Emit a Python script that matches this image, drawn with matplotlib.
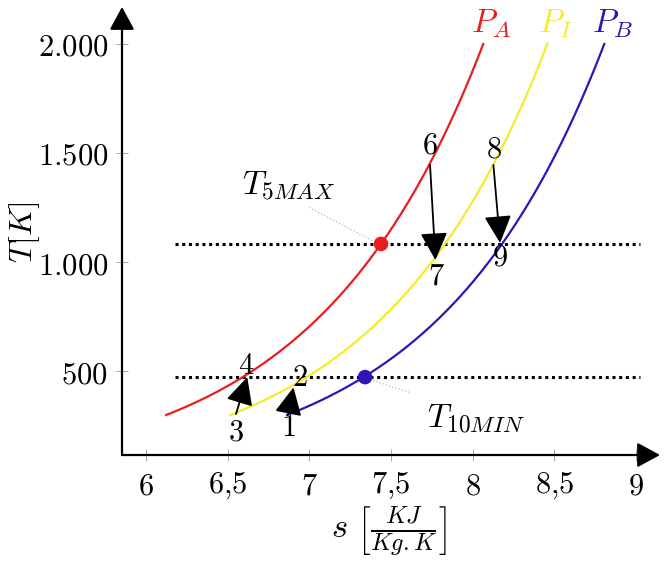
import numpy as np
import matplotlib
matplotlib.use('Agg')
import matplotlib.pyplot as plt

plt.rcParams['mathtext.fontset'] = 'cm'
plt.rcParams['font.family'] = 'DejaVu Serif'

# isobars: entropy where each curve crosses T = 1083 K, common cp
isobar_names = ['$P_A$', '$P_I$', '$P_B$']
isobar_colors = ['#e81e1e', '#f4ec2a', '#2d16b4']
isobar_s_ref = [7.439, 7.831, 8.180]
T_ref = 1083
cp = 1.02
T_start = 298
T_end = 2000

# highlighted temperatures
T5_max = 1083
T10_min = 472
dot_s = [7.439, 7.341]
dot_T = [1083, 472]
dot_colors = ['#e81e1e', '#2d16b4']

# process arrows (tail -> tip)
arrows = [((6.551, 303), (6.620, 472)),
          ((6.869, 298), (6.903, 425)),
          ((7.739, 1445), (7.772, 1009)),
          ((8.127, 1445), (8.168, 1087))]

point_labels = ['1', '2', '3', '4', '6', '7', '8', '9']
point_s = [6.869, 6.943, 6.551, 6.612, 7.739, 7.776, 8.131, 8.168]
point_T = [243, 472, 220, 523, 1537, 936, 1518, 1023]

x_ticks = [6, 6.5, 7, 7.5, 8, 8.5, 9]
x_ticklabels = ['$6$', '$6{,}5$', '$7$', '$7{,}5$', '$8$', '$8{,}5$', '$9$']
y_ticks = [500, 1000, 1500, 2000]
y_ticklabels = ['$500$', '$1.000$', '$1.500$', '$2.000$']

fs = 21

fig = plt.figure(figsize=(6.71, 5.63), dpi=100)
ax = fig.add_axes([122 / 671, 108 / 563, 538 / 671, 448 / 563])
ax.set_xlim(5.853, 9.147)
ax.set_ylim(114.7, 2169.7)

for sp in ax.spines.values():
    sp.set_visible(False)

# axes with arrow heads
for end in [(1, 0), (0, 1)]:
    ax.annotate('', xy=end, xytext=(0, 0), xycoords='axes fraction',
                arrowprops=dict(arrowstyle='-|>,head_length=0.7,head_width=0.38',
                                lw=1.6, color='black', mutation_scale=20,
                                shrinkA=0, shrinkB=0))

ax.set_xticks(x_ticks)
ax.set_xticklabels(x_ticklabels, fontsize=fs + 1)
ax.set_yticks(y_ticks)
ax.set_yticklabels(y_ticklabels, fontsize=fs + 1)
ax.tick_params(direction='inout', length=8, width=0.6, color='#999999')
ax.tick_params(axis='x', pad=7)
ax.tick_params(axis='y', pad=6)

# isobars
T = np.linspace(T_start, T_end, 200)
for name, c, s_ref in zip(isobar_names, isobar_colors, isobar_s_ref):
    s = s_ref + cp * np.log(T / T_ref)
    ax.plot(s, T, color=c, lw=1.6, zorder=3)
    ax.text(s[-1] + 0.05, 2095, name, color=c, fontsize=fs + 3,
            ha='center', va='center')

# dotted temperature limits
for Tl in [T5_max, T10_min]:
    ax.plot([6.178, 9.025], [Tl, Tl], color='black', lw=2.2,
            linestyle=(0, (1, 1.2)), zorder=2)

ax.scatter(dot_s, dot_T, s=90, c=dot_colors, zorder=5)

# pins
ax.plot([7.0, 7.405], [1250, 1090], color='#aaaaaa', lw=0.8, ls=(0, (1, 2)))
ax.text(6.870, 1349, '$T_{5MAX}$', fontsize=fs + 3, ha='center', va='center')
ax.plot([7.37, 7.62], [460, 400], color='#aaaaaa', lw=0.8, ls=(0, (1, 2)))
ax.text(8.02, 284, '$T_{10MIN}$', fontsize=fs + 3, ha='center', va='center')

for (p0, p1) in arrows:
    ax.annotate('', xy=p1, xytext=p0,
                arrowprops=dict(arrowstyle='-|>,head_length=0.85,head_width=0.42',
                                lw=1.3, color='black', mutation_scale=20,
                                shrinkA=0, shrinkB=0), zorder=6)

for lab, s, t in zip(point_labels, point_s, point_T):
    ax.text(s, t, '$' + lab + '$', fontsize=fs + 1, ha='center', va='center', zorder=7)

fig.text(25 / 671, 1 - 232 / 563, '$T[K]$', rotation=90, fontsize=fs + 2,
         ha='center', va='center')
fig.text(389 / 671, 1 - 532 / 563, r'$s\ \left[\frac{KJ}{Kg.K}\right]$',
         fontsize=fs + 4, ha='center', va='center')

fig.savefig('out.png', dpi=100)
